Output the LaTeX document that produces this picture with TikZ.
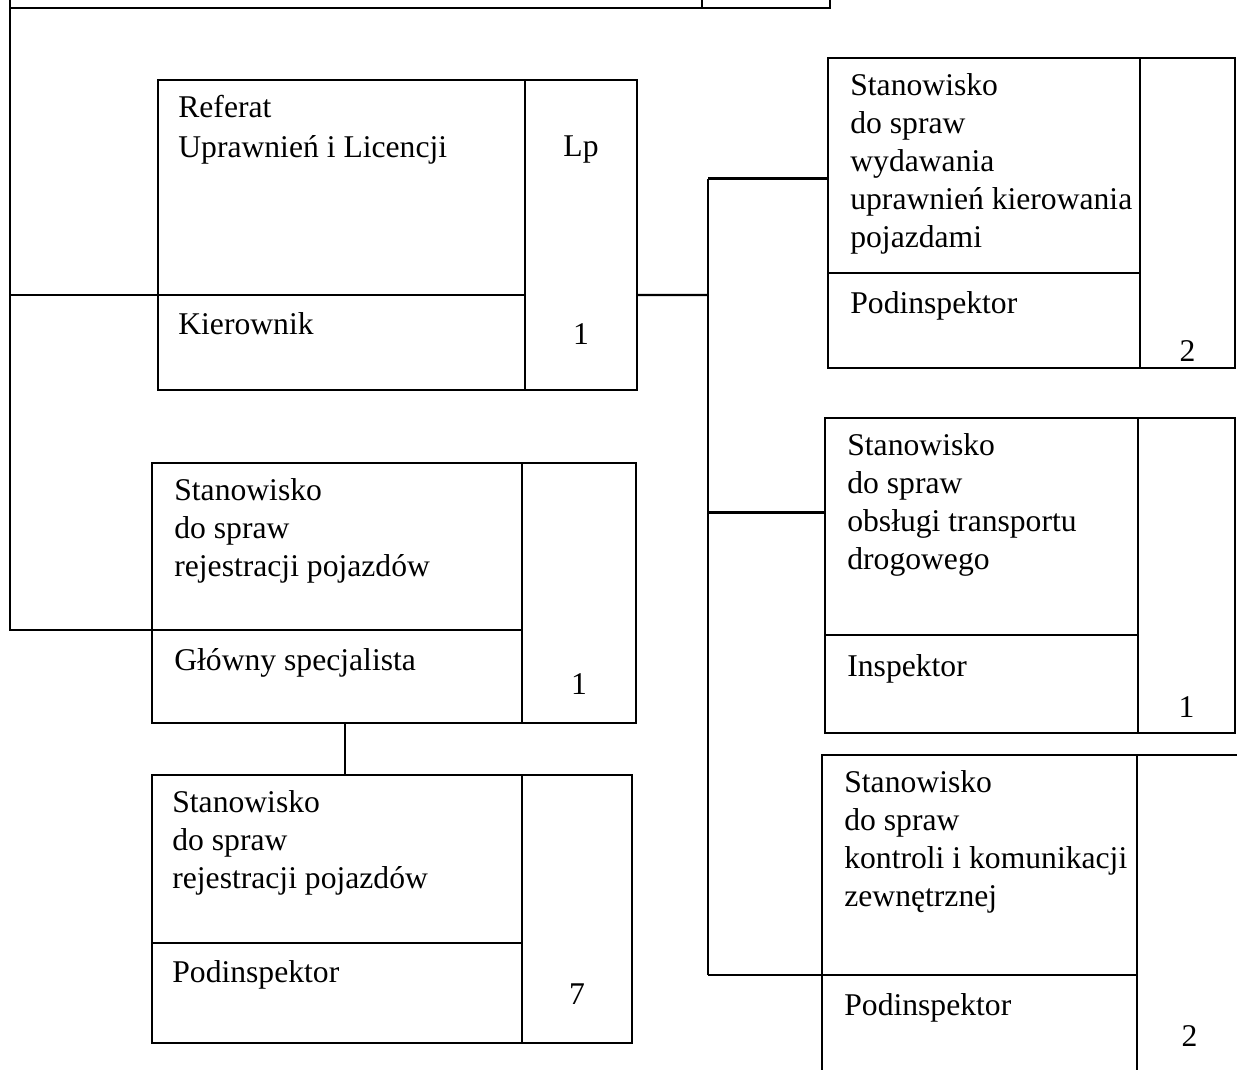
\documentclass[tikz,border=0pt]{standalone}
\usepackage{fontspec}
\setmainfont{Liberation Serif}
\usetikzlibrary{positioning}
\begin{document}
\begin{tikzpicture}[node distance=1cm]
    \tikzstyle{cell} = [rectangle, draw, line width=1.2pt, anchor=north west, inner sep=0pt, outer sep=0pt]
    \tikzstyle{txt} = [align=left, inner sep=0pt, font=\fontsize{18}{21.6}\selectfont]
    \tikzstyle{link} = [line width=1.2pt]
    \useasboundingbox (0,0) rectangle (24.74,-21.38);

    % Upper unit (cut off)
    \node [cell, minimum width=13.84cm, minimum height=1.76cm] (topn) at (0.2,1.6) {};
    \node [cell, minimum width=2.56cm, minimum height=1.76cm] (topc) at (topn.north east) {};

    % Referat
    \node [cell, minimum width=7.34cm, minimum height=4.30cm] (reft) at (3.16,-1.60) {};
    \node [cell, minimum width=7.34cm, minimum height=1.90cm] (refr) at (reft.south west) {};
    \node [cell, minimum width=2.24cm, minimum height=6.20cm] (refc) at (reft.north east) {};

    % Rejestracja pojazdow
    \node [cell, minimum width=7.40cm, minimum height=3.34cm] (rej1t) at (3.04,-9.26) {};
    \node [cell, minimum width=7.40cm, minimum height=1.86cm] (rej1r) at (rej1t.south west) {};
    \node [cell, minimum width=2.28cm, minimum height=5.20cm] (rej1c) at (rej1t.north east) {};

    \node [cell, minimum width=7.40cm, minimum height=3.36cm] (rej2t) at (3.04,-15.50) {};
    \node [cell, minimum width=7.40cm, minimum height=2.00cm] (rej2r) at (rej2t.south west) {};
    \node [cell, minimum width=2.20cm, minimum height=5.36cm] (rej2c) at (rej2t.north east) {};

    % Right column
    \node [cell, minimum width=6.24cm, minimum height=4.30cm] (uprt) at (16.56,-1.16) {};
    \node [cell, minimum width=6.24cm, minimum height=1.90cm] (uprr) at (uprt.south west) {};
    \node [cell, minimum width=1.90cm, minimum height=6.20cm] (uprc) at (uprt.north east) {};

    \node [cell, minimum width=6.26cm, minimum height=4.34cm] (trt) at (16.50,-8.36) {};
    \node [cell, minimum width=6.26cm, minimum height=1.96cm] (trr) at (trt.south west) {};
    \node [cell, minimum width=1.94cm, minimum height=6.30cm] (trc) at (trt.north east) {};

    \node [cell, minimum width=6.30cm, minimum height=4.40cm] (kt) at (16.44,-15.10) {};
    \node [cell, minimum width=6.30cm, minimum height=2.20cm] (kr) at (kt.south west) {};
    \node [cell, minimum width=2.10cm, minimum height=6.60cm] (kc) at (kt.north east) {};

    % Texts
    \node [txt, below right=0.3cm and 0.4cm of reft.north west] (reftx) {Referat\\[1pt]Uprawnień i Licencji};
    \node [txt, below right=0.34cm and 0.4cm of refr.north west] (refrx) {Kierownik};
    \node [txt, below=1.1cm of refc.north] (lp) {Lp};
    \node [txt, above=0.9cm of refc.south] (refn) {1};

    \node [txt, below right=0.3cm and 0.44cm of rej1t.north west] (rej1tx) {Stanowisko\\do spraw\\rejestracji pojazdów};
    \node [txt, below right=0.36cm and 0.44cm of rej1r.north west] (rej1rx) {Główny specjalista};
    \node [txt, above=0.56cm of rej1c.south] (rej1n) {1};

    \node [txt, below right=0.3cm and 0.4cm of rej2t.north west] (rej2tx) {Stanowisko\\do spraw\\rejestracji pojazdów};
    \node [txt, below right=0.34cm and 0.4cm of rej2r.north west] (rej2rx) {Podinspektor};
    \node [txt, above=0.76cm of rej2c.south] (rej2n) {7};

    \node [txt, below right=0.3cm and 0.44cm of uprt.north west] (uprtx) {Stanowisko\\do spraw\\wydawania\\uprawnień kierowania\\pojazdami};
    \node [txt, below right=0.36cm and 0.44cm of uprr.north west] (uprrx) {Podinspektor};
    \node [txt, above=0.12cm of uprc.south] (uprn) {2};

    \node [txt, below right=0.3cm and 0.44cm of trt.north west] (trtx) {Stanowisko\\do spraw\\obsługi transportu\\drogowego};
    \node [txt, below right=0.38cm and 0.44cm of trr.north west] (trrx) {Inspektor};
    \node [txt, above=0.3cm of trc.south] (trn) {1};

    \node [txt, below right=0.3cm and 0.44cm of kt.north west] (ktx) {Stanowisko\\do spraw\\kontroli i komunikacji\\zewnętrznej};
    \node [txt, below right=0.36cm and 0.44cm of kr.north west] (krx) {Podinspektor};
    \node [txt, below=1.0cm of kc.north |- kr.north] (kn) {2};

    % Connections
    \coordinate (bus) at (14.16,-5.90);
    \coordinate (uprin) at ([yshift=-0.26cm]uprt.west);
    \coordinate (trin) at ([yshift=0.28cm]trt.west);
    \coordinate (rejdown) at ([xshift=0.16cm]rej1r.south);

    \draw [link] (topn.south west) -- (topn.south west |- rej1r.north west) -- (rej1r.north west);
    \draw [link] (refr.north west -| topn.south west) -- (refr.north west);
    \draw [link] (rejdown) -- (rejdown |- rej2t.north);

    \draw [link] (refr.north -| refc.east) -- (bus);
    \draw [link] (uprin -| bus) -- (kr.north west -| bus);
    \draw [link] (uprin -| bus) -- (uprin);
    \draw [link] (trin -| bus) -- (trin);
    \draw [link] (kr.north west -| bus) -- (kr.north west);
\end{tikzpicture}
\end{document}
